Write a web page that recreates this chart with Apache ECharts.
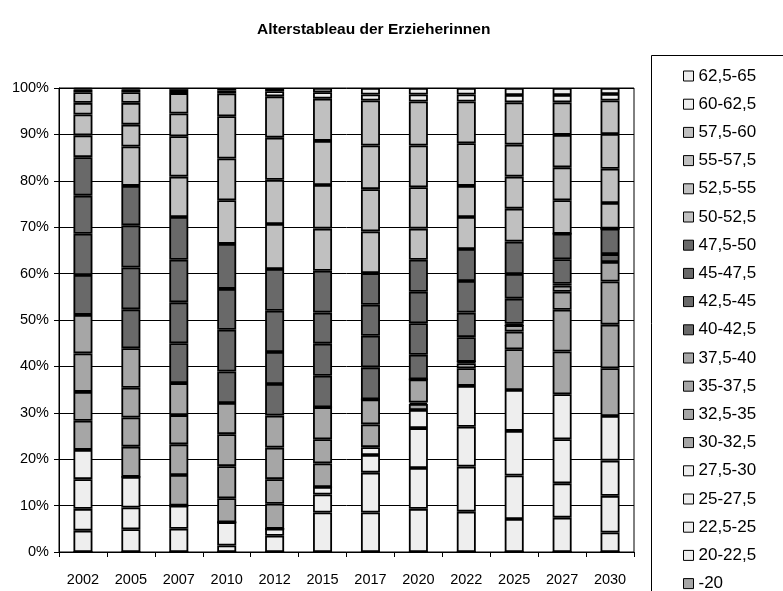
<!DOCTYPE html>
<html>
<head>
    <meta charset="utf-8">
    <title>Alterstableau der Erzieherinnen</title>
    <script src="https://cdn.jsdelivr.net/npm/echarts@6/dist/echarts.min.js"></script>
    <style>
        html, body {
            margin: 0;
            padding: 0;
            width: 100%;
            height: 100%;
            overflow: hidden;
            background: #fff;
        }
        #chart {
            width: 783px;
            height: 591px;
        }
    </style>
</head>
<body>
    <div id="chart"></div>
    <script>
        // Jahre (Kategorien)
        const years = ['2002', '2005', '2007', '2010', '2012', '2015', '2017', '2020', '2022', '2025', '2027', '2030'];

        // Altersgruppen, von unten nach oben gestapelt
        const ageGroups = ['-20', '20-22,5', '22,5-25', '25-27,5', '27,5-30',
            '30-32,5', '32,5-35', '35-37,5', '37,5-40',
            '40-42,5', '42,5-45', '45-47,5', '47,5-50',
            '50-52,5', '52,5-55', '55-57,5', '57,5-60',
            '60-62,5', '62,5-65'];

        // Anteile in % je Jahr (Reihenfolge wie ageGroups)
        const v2002 = [0, 4.6, 4.7, 6.4, 6.3, 6.3, 6.2, 8.3, 8.3, 8.6, 8.9, 8.2, 8.3, 4.7, 4.5, 2.5, 2.3, 0.6, 0.3];
        const v2005 = [0, 4.9, 4.7, 6.6, 0, 6.5, 6.3, 6.4, 8.5, 8.4, 9.0, 9.1, 8.5, 8.5, 4.7, 4.7, 2.3, 0.6, 0.3];
        const v2007 = [0, 5.0, 5.0, 0, 0, 6.6, 6.6, 6.3, 6.9, 8.6, 8.8, 9.2, 9.2, 8.7, 8.7, 4.9, 4.4, 0.7, 0.4];
        const v2010 = [0, 1.4, 5.0, 0, 0, 5.2, 6.9, 6.9, 6.7, 6.8, 9.0, 8.8, 9.7, 9.4, 9.0, 9.1, 4.9, 0.7, 0.5];
        const v2012 = [0, 3.5, 1.5, 0, 0, 5.4, 5.3, 6.8, 6.9, 6.8, 6.9, 8.9, 9.0, 9.7, 9.5, 9.1, 8.9, 1.1, 0.7];
        const v2015 = [0, 8.5, 3.9, 1.6, 0, 5.1, 5.2, 6.9, 0, 6.8, 6.9, 6.7, 9.0, 9.1, 9.4, 9.5, 9.1, 1.4, 0.9];
        const v2017 = [0, 8.5, 8.6, 3.8, 1.7, 4.9, 5.4, 0, 0, 6.9, 6.8, 6.7, 6.8, 9.0, 9.1, 9.4, 9.7, 1.3, 1.4];
        const v2020 = [0, 9.3, 8.8, 8.6, 3.9, 1.3, 0.3, 5.0, 0, 5.3, 6.8, 6.8, 6.9, 6.7, 8.9, 9.0, 9.5, 1.5, 1.4];
        const v2022 = [0, 8.7, 9.7, 8.6, 8.8, 3.8, 1.1, 0.3, 0, 5.3, 5.3, 6.8, 6.9, 6.9, 6.7, 9.2, 9.0, 1.5, 1.4];
        const v2025 = [0, 7.1, 9.4, 9.6, 8.8, 8.8, 3.8, 1.4, 0, 0.3, 5.4, 5.3, 7.0, 7.1, 6.9, 6.9, 9.1, 1.6, 1.5];
        const v2027 = [0, 7.4, 7.4, 9.5, 9.7, 9.2, 9.0, 3.9, 1.3, 0.4, 5.3, 5.5, 0, 7.2, 7.1, 7.0, 7.0, 1.6, 1.5];
        const v2030 = [0, 4.2, 7.9, 7.6, 9.6, 10.3, 9.4, 9.3, 4.2, 1.7, 5.5, 0, 0, 5.5, 7.4, 7.5, 7.2, 1.4, 1.3];

        const yearValues = [v2002, v2005, v2007, v2010, v2012, v2015, v2017, v2020, v2022, v2025, v2027, v2030];

        // y-Achse
        const yTicks = [0, 10, 20, 30, 40, 50, 60, 70, 80, 90, 100];

        // Graustufen je Altersgruppe
        const LIGHT = '#eeeeee', MID = '#a6a6a6', DARK = '#696969', PALE = '#c0c0c0';
        const groupColors = [MID,
            LIGHT, LIGHT, LIGHT, LIGHT,
            MID, MID, MID, MID,
            DARK, DARK, DARK, DARK,
            PALE, PALE, PALE, PALE,
            LIGHT, LIGHT];

        const FONT = "'Liberation Sans', Arial, sans-serif";

        const chart = echarts.init(document.getElementById('chart'), null, { renderer: 'canvas' });

        const series = ageGroups.map((name, i) => ({
            name: name,
            type: 'bar',
            stack: 'total',
            barWidth: 19,
            data: yearValues.map(v => v[i]),
            itemStyle: {
                color: groupColors[i],
                borderColor: '#000',
                borderWidth: 1.8
            },
            animation: false
        }));

        chart.setOption({
            backgroundColor: '#fff',
            title: {
                text: 'Alterstableau der Erzieherinnen',
                left: 252,
                top: 17,
                textStyle: {
                    fontFamily: FONT,
                    fontSize: 15.5,
                    fontWeight: 'bold',
                    color: '#000'
                }
            },
            grid: {
                left: 59,
                right: 149,
                top: 88,
                bottom: 39,
                show: true,
                borderColor: '#000',
                borderWidth: 1,
                backgroundColor: 'transparent'
            },
            legend: {
                orient: 'vertical',
                left: 683,
                top: 66,
                height: 560,
                padding: 0,
                itemWidth: 10,
                itemHeight: 10,
                itemGap: 8.2,
                icon: 'rect',
                data: ageGroups.slice().reverse(),
                itemStyle: {
                    borderColor: '#000',
                    borderWidth: 1
                },
                textStyle: {
                    fontFamily: FONT,
                    fontSize: 17,
                    lineHeight: 20,
                    color: '#000'
                }
            },
            graphic: [{
                type: 'rect',
                shape: { x: 651.5, y: 55.5, width: 200, height: 600 },
                style: { fill: 'none', stroke: '#000', lineWidth: 1 },
                silent: true
            }],
            xAxis: {
                type: 'category',
                data: years,
                axisLine: { lineStyle: { color: '#000', width: 1 } },
                axisTick: { show: true, length: 5, lineStyle: { color: '#000' } },
                axisLabel: {
                    color: '#000',
                    fontFamily: FONT,
                    fontSize: 14.5,
                    interval: 0,
                    margin: 20
                }
            },
            yAxis: {
                type: 'value',
                min: yTicks[0],
                max: yTicks[yTicks.length - 1],
                interval: yTicks[1] - yTicks[0],
                axisLine: { show: true, lineStyle: { color: '#000', width: 1 } },
                axisTick: { show: true, length: 5, lineStyle: { color: '#000' } },
                splitLine: { show: true, lineStyle: { color: '#000', width: 1 } },
                axisLabel: {
                    color: '#000',
                    fontFamily: FONT,
                    fontSize: 14.5,
                    margin: 10,
                    formatter: '{value}%'
                }
            },
            series: series
        });
    </script>
</body>
</html>
